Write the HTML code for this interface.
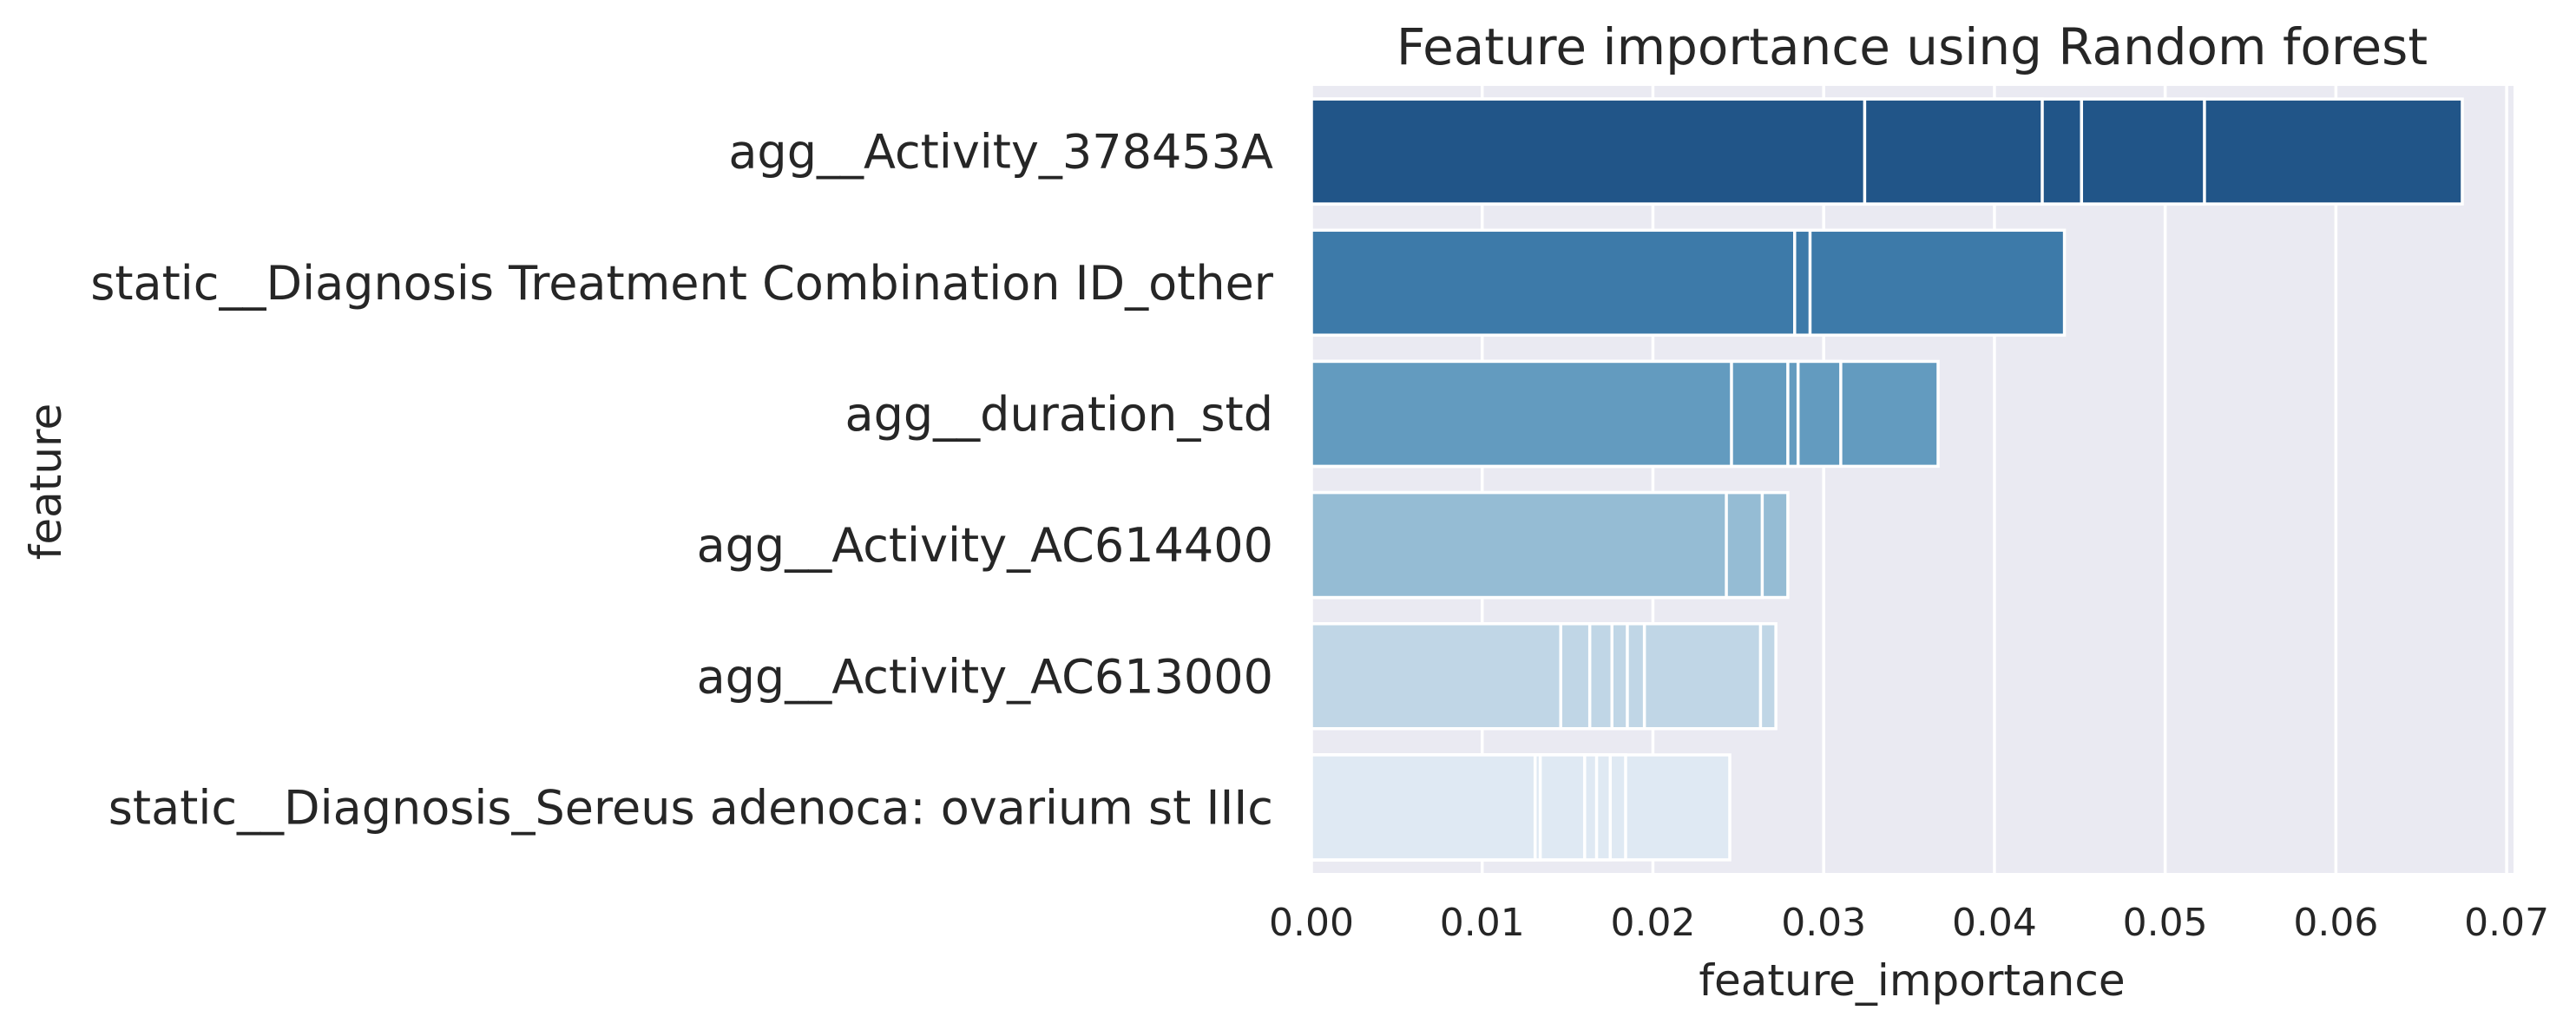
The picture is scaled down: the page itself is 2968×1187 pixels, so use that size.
<!DOCTYPE html>
<html><head><meta charset="utf-8"><style>
html,body{margin:0;padding:0;background:#fff;}
svg{display:block;font-family:"DejaVu Sans","Liberation Sans",sans-serif;}
</style></head>
<body>
<svg id="chart" width="2968" height="1187" viewBox="0 0 2968 1187" xmlns="http://www.w3.org/2000/svg">
<rect x="0" y="0" width="2968" height="1187" fill="#fff"/>
<text x="2203" y="74" text-anchor="middle" font-size="58" fill="#262626">Feature importance using Random forest</text>
<rect x="1511" y="99" width="1385" height="907" fill="#eaeaf2"/>
<g id="grid"></g>
<g id="bars"></g>
<g id="ylabels"></g>
<g id="xticks"></g>
<text x="2203" y="1147" text-anchor="middle" font-size="50" fill="#262626">feature_importance</text>
<text x="0" y="0" transform="translate(70,555) rotate(-90)" text-anchor="middle" font-size="50" fill="#262626">feature</text>
</svg>
<script>
const categories = ["agg__Activity_378453A","static__Diagnosis Treatment Combination ID_other","agg__duration_std","agg__Activity_AC614400","agg__Activity_AC613000","static__Diagnosis_Sereus adenoca: ovarium st IIIc"];
const seriesValues = [
  [0.0324,0.0428,0.0451,0.0523,0.0674],
  [0.0283,0.0292,0.0441],
  [0.0246,0.0279,0.0285,0.0310,0.0367],
  [0.0243,0.0264,0.0279],
  [0.0146,0.0163,0.0176,0.0185,0.0195,0.0263,0.0272],
  [0.0131,0.0134,0.0160,0.0167,0.0175,0.0184,0.0245]
];
const colors = ["#215588","#3d7aa9","#639bbf","#95bcd4","#c0d6e6","#dfe9f3"];
const xTicks = [0,0.01,0.02,0.03,0.04,0.05,0.06,0.07];
const xTickLabels = ["0.00","0.01","0.02","0.03","0.04","0.05","0.06","0.07"];

const NS="http://www.w3.org/2000/svg";
const L=1511,R=2896,T=99,B=1006,XMAX=0.0704;
const xs=v=>L+(v/XMAX)*(R-L);
const band=(B-T)/categories.length;
const ys=i=>T+i*band;
function mk(tag,attrs,parent){const e=document.createElementNS(NS,tag);for(const k in attrs)e.setAttribute(k,attrs[k]);parent.appendChild(e);return e;}
const grid=document.getElementById('grid'),bars=document.getElementById('bars'),yl=document.getElementById('ylabels'),xt=document.getElementById('xticks');
xTicks.forEach((t,i)=>{
  const g=mk('line',{x1:xs(t),x2:xs(t),y1:T,y2:B,stroke:'#fff','stroke-width':3.5},grid);
  
  
  const tx=mk('text',{x:xs(t),y:1078,'text-anchor':'middle','font-size':44,fill:'#262626'},xt);
  tx.textContent=xTickLabels[i];
  
  
});
categories.forEach((c,i)=>{
  const top=ys(i)+band*0.1,h=band*0.8;
  const vals=seriesValues[i].slice().sort((a,b)=>b-a);
  vals.forEach(v=>{
    const r=mk('rect',{x:L,y:top,width:xs(v)-L,height:h,fill:colors[i],stroke:'#fff','stroke-width':3.5},bars);
    
    
  });
  const t=mk('text',{x:1467,y:ys(i)+band/2+19,'text-anchor':'end','font-size':54,fill:'#262626'},yl);
  t.textContent=c;
  
  
});
</script>
</body></html>
